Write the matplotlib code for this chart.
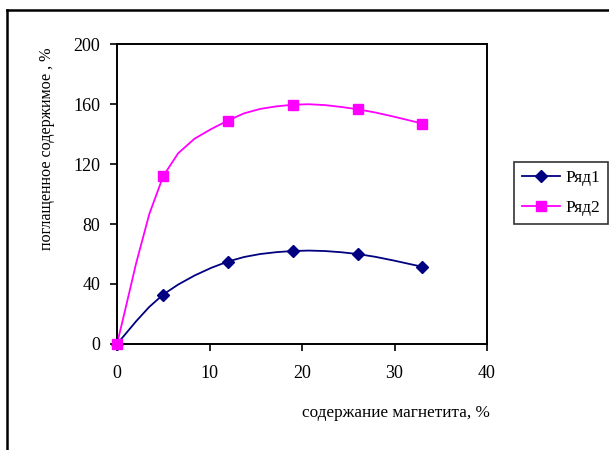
import numpy as np
import matplotlib
matplotlib.use("Agg")
import matplotlib.pyplot as plt
from matplotlib.lines import Line2D

plt.rcParams['font.family'] = ['Liberation Serif', 'DejaVu Serif']

# Magnetite content, %
x_vals = [0, 5, 12, 19, 26, 33]
# Absorbed content, %
row1 = [0, 33, 55, 62, 60, 51.5]
row2 = [0, 112, 149, 159.5, 156.5, 147]
series_names = ["Ряд1", "Ряд2"]
x_ticks = [0, 10, 20, 30, 40]
y_ticks = [0, 40, 80, 120, 160, 200]


def smooth(xs, ys, n=4):
    """Cubic Bezier smoothing through the points (Catmull-Rom style control points),
    flattened into a few straight pieces per interval."""
    p = np.column_stack([xs, ys]).astype(float)
    out = [p[0]]
    m = len(p)
    for i in range(m - 1):
        p0 = p[i - 1] if i > 0 else p[i]
        p1 = p[i]
        p2 = p[i + 1]
        p3 = p[i + 2] if i + 2 < m else p[i + 1]
        c1 = p1 + (p2 - p0) / 6.0
        c2 = p2 - (p3 - p1) / 6.0
        t = np.linspace(0, 1, n + 1)[1:, None]
        seg = ((1 - t) ** 3) * p1 + 3 * ((1 - t) ** 2) * t * c1 + 3 * (1 - t) * t ** 2 * c2 + t ** 3 * p2
        out.extend(seg)
    out = np.array(out)
    return out[:, 0], out[:, 1]


W, H = 609, 450
fig = plt.figure(figsize=(W / 100, H / 100), dpi=100)

# outer chart frame (runs off the right and bottom edges)
fig.add_artist(Line2D([7 / W, 7 / W], [0, 1 - 9.5 / H], color="black", lw=1.8, transform=fig.transFigure))
fig.add_artist(Line2D([7 / W, 1], [1 - 9.5 / H, 1 - 9.5 / H], color="black", lw=1.8, transform=fig.transFigure))

ax = fig.add_axes([117 / W, 1 - 344 / H, (487 - 117) / W, (344 - 44) / H])

navy = "#000080"
magenta = "#FF00FF"

sx, sy = smooth(x_vals, row1)
ax.plot(sx, sy, color=navy, lw=1.3, zorder=3, clip_on=False)
ax.plot(x_vals, row1, linestyle="none", marker="D", markersize=6.3, color=navy, zorder=4, clip_on=False)

sx, sy = smooth(x_vals, row2)
ax.plot(sx, sy, color=magenta, lw=1.3, zorder=3, clip_on=False)
ax.plot(x_vals, row2, linestyle="none", marker="s", markersize=6.5, color=magenta, zorder=5, clip_on=False)

ax.set_xlim(0, 40)
ax.set_ylim(0, 200)
ax.set_xticks(x_ticks)
ax.set_yticks(y_ticks)
ax.tick_params(axis="both", labelsize=13, length=5, width=1.2, direction="out", color="black")
ax.tick_params(axis="x", pad=10)
ax.tick_params(axis="y", pad=7)
for s in ax.spines.values():
    s.set_linewidth(1.4)

fig.text(396 / W, 1 - 413 / H, "содержание магнетита, %", ha="center", va="center", fontsize=12.3)
fig.text(47 / W, 1 - 149 / H, "поглащенное содержимое , %", ha="center", va="center",
         rotation=90, fontsize=11.6)

# legend
handles = [Line2D([], [], color=navy, lw=1.3, marker="D", markersize=6.3),
           Line2D([], [], color=magenta, lw=1.3, marker="s", markersize=6.5)]
leg = fig.legend(handles, series_names, loc="upper left",
                 bbox_to_anchor=(514 / W, 1 - 162 / H), frameon=True, fancybox=False,
                 edgecolor="black", fontsize=12.5, handlelength=2.2, handletextpad=0.3,
                 borderpad=0.45, labelspacing=0.8, borderaxespad=0)
leg.get_frame().set_linewidth(1.2)

fig.savefig("out.png", dpi=100)
